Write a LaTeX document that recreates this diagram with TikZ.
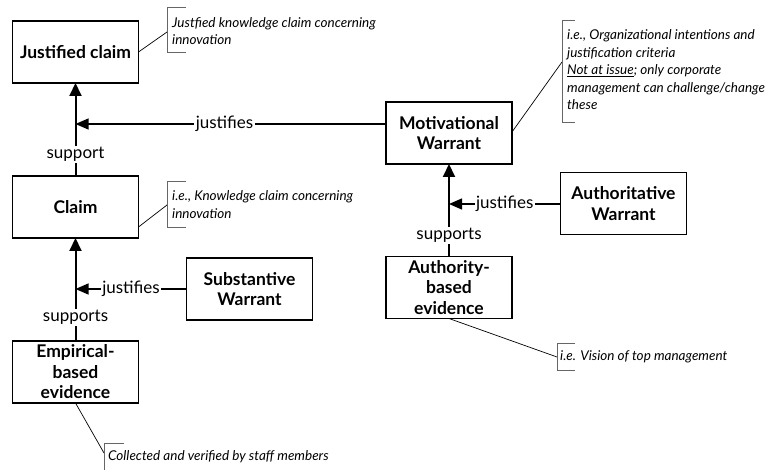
\documentclass[tikz,border=0pt]{standalone}
\usepackage{fontspec}
\setmainfont{Lato}
\usetikzlibrary{arrows.meta}
\begin{document}
\begin{tikzpicture}[x=1pt,y=-1pt,
  box/.style={draw,line width=1.6pt,minimum width=126pt,minimum height=62pt,
    inner sep=1pt,outer sep=0pt,align=center,
    font=\fontsize{17.5}{20.5}\selectfont\bfseries},
  lbl/.style={fill=white,inner sep=1.5pt,font=\fontsize{17}{19}\selectfont},
  support/.style={line width=2pt,-{Triangle[length=13pt,width=12pt]}},
  justify/.style={line width=1.2pt,-{Triangle[length=13pt,width=11pt]}},
  lead/.style={line width=0.7pt},
  bracket/.style={line width=0.8pt,draw=black!60},
  note/.style={anchor=west,inner sep=0pt,align=left,
    font=\fontsize{13.5}{17.5}\selectfont\itshape}]
\useasboundingbox (0,0) rectangle (772,470);

% claims and evidence, left column
\node[box] (jc) at (75.5,52) {Justified claim};
\node[box] (cl) at (75.5,207) {Claim};
\node[box] (emp) at (75.5,372) {Empirical-\\based\\evidence};
\node[box] (sw) at (249.5,289) {Substantive\\Warrant};

% warrants and evidence, right column
\node[box] (mw) at (449,133) {Motivational\\Warrant};
\node[box] (aw) at (623.5,203.5) {Authoritative\\Warrant};
\node[box] (ab) at (449,287.5) {Authority-\\based\\evidence};

% points where the warrants meet the support lines
\coordinate (jtop) at (75.5,124);
\coordinate (jlow) at (75.5,289);
\coordinate (jright) at (449,204);

% support lines
\draw[support] (cl) -- node[lbl,pos=0.23]{support} (jc);
\draw[support] (emp) -- node[lbl,pos=0.23]{supports} (cl);
\draw[support] (ab) -- node[lbl,pos=0.23]{supports} (mw);

% warrants
\draw[justify] (mw.west |- jtop) -- node[lbl,pos=0.52]{justifies} (jtop);
\draw[justify] (sw.west |- jlow) -- node[lbl,pos=0.5]{justifies} (jlow);
\draw[justify] (aw.west |- jright) -- node[lbl,pos=0.5]{justifies} (jright);

% annotations
\coordinate (njc) at (167,32);
\draw[lead] (jc.east |- 0,52) -- (njc);
\draw[bracket] (186,7) -- (167,7) -- (167,52) -- (186,52);
\node[note] (tjc) at (172,31) {Justfied knowledge claim concerning\\innovation};

\coordinate (ncl) at (167,205);
\draw[lead] (cl.east |- 0,227) -- (ncl);
\draw[bracket] (186,181) -- (167,181) -- (167,227) -- (186,227);
\node[note] (tcl) at (172,204.5) {i.e., Knowledge claim concerning\\innovation};

\coordinate (nmw) at (562,62);
\draw[lead] (mw.east |- 0,132) -- (nmw);
\draw[bracket] (575,20) -- (562,20) -- (562,122) -- (575,122);
\node[note] (tmw) at (567,70) {i.e., Organizational intentions and\\justification criteria\\\underline{Not at issue}; only corporate\\management can challenge/change\\these};

\coordinate (nab) at (557,357);
\draw[lead] (ab.south) -- (nab);
\draw[bracket] (575,343) -- (557,343) -- (557,370) -- (575,370);
\node[note] (tab) at (560,357) {i.e. Vision of top management};

\coordinate (nemp) at (104,453);
\draw[lead] (emp.south) -- (nemp);
\draw[bracket] (124,443) -- (104,443) -- (104,472);
\node[note] (temp) at (108,457) {Collected and verified by staff members};
\end{tikzpicture}
\end{document}
